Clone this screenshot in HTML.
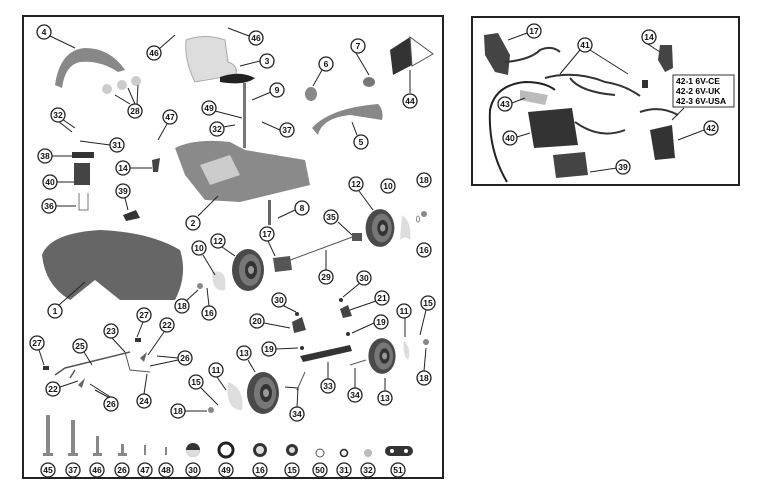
<!DOCTYPE html>
<html><head><style>
html,body{margin:0;padding:0;background:#fff;}
svg{display:block;}
text{font-family:"Liberation Sans",sans-serif;font-weight:bold;}
</style></head><body>
<svg width="760" height="485" viewBox="0 0 760 485" xmlns="http://www.w3.org/2000/svg">
<defs>
<g id="tire"><ellipse cx="0" cy="0" rx="16" ry="21" fill="#4a4a4a"/><ellipse cx="2" cy="0" rx="11" ry="16" fill="#777"/><ellipse cx="3" cy="0" rx="6" ry="9" fill="#333"/><ellipse cx="3" cy="0" rx="3" ry="4" fill="#999"/></g>
</defs>
<rect x="23" y="16" width="420" height="462" fill="none" stroke="#222" stroke-width="2"/>
<rect x="472" y="17" width="267" height="168" fill="none" stroke="#222" stroke-width="2"/>

<!-- parts left -->
<path d="M55,85 Q60,50 85,48 Q110,48 125,70 L118,72 Q100,60 80,62 Q65,65 62,88Z" fill="#888"/>
<circle cx="107" cy="89" r="5" fill="#ccc"/><circle cx="122" cy="85" r="5" fill="#ccc"/><circle cx="136" cy="81" r="5" fill="#ccc"/>
<path d="M186,40 Q205,33 225,40 L228,62 Q238,65 236,75 L195,82 Q184,60 186,40Z" fill="#ddd" stroke="#aaa"/>
<path d="M220,77 Q240,70 255,78 Q245,86 220,82Z" fill="#222"/>
<rect x="243" y="83" width="3" height="65" fill="#777"/>
<ellipse cx="311" cy="94" rx="6" ry="7" fill="#888"/>
<ellipse cx="369" cy="82" rx="6" ry="5" fill="#777"/>
<path d="M390,50 L410,37 L433,54 L393,75Z" fill="#333"/><path d="M410,37 L433,54 L412,66Z" fill="#fff" stroke="#555"/>
<path d="M312,128 Q330,108 378,104 Q384,110 382,120 L350,115 Q322,118 318,135Z" fill="#888"/>
<path d="M175,148 Q195,138 230,142 L245,150 L305,160 L310,185 L240,202 L205,200 L185,175Z" fill="#8a8a8a"/>
<path d="M200,165 L230,155 L240,175 L210,185Z" fill="#ccc"/>
<rect x="72" y="152" width="22" height="6" fill="#333"/>
<rect x="74" y="163" width="16" height="22" fill="#444"/>
<path d="M79,193 L79,210 L88,210 L88,193" fill="none" stroke="#777"/>
<path d="M152,160 L160,158 L158,172 L153,172Z" fill="#444"/>
<path d="M123,215 L136,210 L140,218 L126,221Z" fill="#333"/>
<path d="M42,255 Q50,233 100,230 Q150,232 180,250 Q188,275 175,300 L120,300 L95,280 L70,300 Q45,285 42,255Z" fill="#666"/>
<rect x="268" y="200" width="3" height="25" fill="#666"/>
<rect x="352" y="233" width="10" height="8" fill="#555"/>
<line x1="285" y1="262" x2="355" y2="236" stroke="#555"/>
<use href="#tire" x="380" y="228" transform="translate(380 228) scale(0.9) translate(-380 -228)"/>
<path d="M402,215 Q412,222 410,240 Q405,235 400,240Z" fill="#ddd"/>
<circle cx="424" cy="214" r="3" fill="#888"/><ellipse cx="418" cy="219" rx="1.5" ry="3" fill="none" stroke="#888"/>
<use href="#tire" x="248" y="270"/>
<path d="M273,258 L290,256 L292,270 L275,272Z" fill="#555"/>
<path d="M212,272 Q228,268 225,290 Q212,293 212,272Z" fill="#ddd"/>
<circle cx="200" cy="286" r="3" fill="#888"/>
<path d="M292,322 L302,317 L306,330 L294,333Z" fill="#444"/>
<path d="M340,309 L348,305 L352,316 L343,318Z" fill="#444"/>
<circle cx="341" cy="300" r="2" fill="#333"/><circle cx="297" cy="314" r="2" fill="#333"/>
<circle cx="348" cy="334" r="2" fill="#333"/><circle cx="302" cy="348" r="2" fill="#333"/>
<path d="M300,356 L350,345 L352,351 L303,362Z" fill="#333"/>
<use href="#tire" x="382" y="356" transform="translate(382 356) scale(0.85) translate(-382 -356)"/>
<path d="M404,340 Q412,350 408,360 Q402,355 404,340Z" fill="#ddd"/>
<circle cx="426" cy="342" r="3" fill="#888"/>
<use href="#tire" x="263" y="393"/>
<path d="M228,382 Q245,388 242,410 Q225,410 228,382Z" fill="#ddd"/>
<circle cx="211" cy="410" r="3" fill="#888"/>
<path d="M55,375 L65,368 L130,352 M75,370 L70,378" fill="none" stroke="#555" stroke-width="1.5"/>
<path d="M125,352 L130,370 L150,372" fill="none" stroke="#555"/>
<rect x="43" y="366" width="6" height="4" fill="#333"/><rect x="135" y="338" width="6" height="4" fill="#333"/>
<path d="M78,385 L85,378 L82,388Z" fill="#666"/><path d="M140,358 L147,352 L144,362Z" fill="#666"/>
<line x1="297" y1="390" x2="305" y2="372" stroke="#555"/><line x1="350" y1="365" x2="366" y2="360" stroke="#555"/>

<!-- bottom row hardware -->
<g fill="#888">
<rect x="46" y="415" width="4" height="40"/><rect x="43" y="453" width="10" height="3"/>
<rect x="71" y="420" width="4" height="35"/><rect x="68" y="453" width="10" height="3"/>
<rect x="96" y="436" width="3" height="18"/><rect x="93" y="453" width="9" height="3"/>
<rect x="121" y="444" width="3" height="10"/><rect x="118" y="453" width="9" height="3"/>
<rect x="144" y="445" width="2" height="10"/><rect x="165" y="447" width="2" height="8"/>
</g>
<circle cx="193" cy="450" r="7" fill="#333"/><path d="M186,450 A7,7 0 0 0 200,450Z" fill="#ddd"/>
<circle cx="226" cy="450" r="7" fill="#fff" stroke="#222" stroke-width="3"/>
<circle cx="260" cy="450" r="7" fill="#333"/><circle cx="260" cy="450" r="4" fill="#ddd"/>
<circle cx="292" cy="450" r="6" fill="#333"/><circle cx="292" cy="450" r="3" fill="#ddd"/>
<circle cx="320" cy="453" r="4" fill="#fff" stroke="#555"/>
<circle cx="344" cy="453" r="3.5" fill="#fff" stroke="#222" stroke-width="1.5"/>
<circle cx="368" cy="453" r="4" fill="#bbb"/>
<rect x="385" y="446" width="28" height="10" rx="5" fill="#333"/><circle cx="392" cy="451" r="2" fill="#fff"/><circle cx="406" cy="451" r="2" fill="#fff"/>

<!-- right box parts -->
<path d="M484,35 L498,33 L510,55 L508,75 L495,72 L485,55Z" fill="#444"/>
<path d="M505,62 Q530,60 540,50 Q552,45 560,52" fill="none" stroke="#333" stroke-width="2"/>
<path d="M545,78 Q575,70 605,82 Q625,85 640,96 M570,78 Q580,92 615,95" fill="none" stroke="#333" stroke-width="2"/>
<rect x="642" y="80" width="6" height="8" fill="#333"/>
<path d="M660,45 L672,45 L673,68 L665,72 L658,60Z" fill="#444"/>
<path d="M507,182 Q488,150 490,110 Q495,85 525,82 Q545,82 555,90" fill="none" stroke="#222" stroke-width="2"/>
<path d="M520,90 L548,95 L545,105 L520,100Z" fill="#bbb"/>
<path d="M528,112 L572,108 L578,145 L534,148Z" fill="#333"/>
<path d="M575,122 Q600,140 625,130" fill="none" stroke="#333" stroke-width="2"/>
<path d="M553,155 L585,152 L588,175 L556,178Z" fill="#444"/>
<path d="M650,130 L672,125 L675,158 L655,160Z" fill="#333"/>
<path d="M640,112 Q660,105 678,115" fill="none" stroke="#333" stroke-width="2"/>
<rect x="673" y="75" width="61" height="32" fill="#fff" stroke="#333"/>
<text x="676" y="84" font-size="8.5">42-1  6V-CE</text>
<text x="676" y="94" font-size="8.5">42-2  6V-UK</text>
<text x="676" y="104" font-size="8.5">42-3  6V-USA</text>

<!-- leader lines -->
<g stroke="#222" stroke-width="1" fill="none">
<path d="M50,36 L75,48"/><path d="M159,49 L175,35"/><path d="M249,36 L228,28"/><path d="M260,61 L240,66"/>
<path d="M356,53 L369,75"/><path d="M322,70 L313,86"/><path d="M410,93 L410,70"/><path d="M130,104 L115,95 M135,104 L128,88 M137,104 L138,85"/>
<path d="M271,92 L252,100"/><path d="M215,111 L242,118"/><path d="M211,129 L235,125"/><path d="M280,130 L262,122"/>
<path d="M357,135 L352,122"/><path d="M62,119 L75,128 M58,121 L72,132"/><path d="M110,145 L80,141"/><path d="M167,124 L158,140"/>
<path d="M52,156 L72,156"/><path d="M130,168 L152,168"/><path d="M57,182 L74,182"/><path d="M125,198 L128,210"/>
<path d="M56,206 L76,206"/><path d="M198,216 L218,196"/><path d="M295,210 L278,218"/><path d="M359,191 L373,210"/>
<path d="M338,222 L352,235"/><path d="M268,241 L275,256"/><path d="M222,247 L235,256"/><path d="M203,255 L215,275"/>
<path d="M326,270 L326,250"/><path d="M360,283 L343,297"/><path d="M376,301 L350,310"/><path d="M186,301 L198,290"/>
<path d="M209,306 L207,288"/><path d="M59,305 L85,282"/><path d="M282,305 L296,312"/><path d="M264,323 L290,328"/>
<path d="M374,323 L352,333"/><path d="M405,318 L405,337"/><path d="M426,310 L420,335"/><path d="M143,322 L137,337"/>
<path d="M164,332 L148,355"/><path d="M112,338 L125,352"/><path d="M84,352 L92,365"/><path d="M39,350 L44,365"/>
<path d="M178,358 L157,356 M178,360 L150,366"/><path d="M276,349 L298,348"/><path d="M248,360 L255,372"/>
<path d="M328,379 L328,362"/><path d="M355,388 L355,368"/><path d="M385,391 L385,378"/><path d="M424,371 L426,348"/>
<path d="M60,387 L78,381"/><path d="M144,394 L147,374"/><path d="M117,402 L95,390 M112,398 L90,384"/>
<path d="M201,388 L218,405"/><path d="M217,377 L226,390"/><path d="M185,411 L207,411"/><path d="M297,407 L298,388 M298,388 L285,387"/>
<path d="M527,33 L508,40"/><path d="M580,50 L560,74 M590,50 L628,74"/><path d="M643,41 L660,52"/>
<path d="M512,103 L525,98"/><path d="M517,137 L530,133"/><path d="M704,130 L678,140"/><path d="M617,168 L590,172"/>
<path d="M684,108 L672,120"/>
</g>

<!-- labels -->
<g font-size="8.5" text-anchor="middle">
<g fill="#fff" stroke="#222" stroke-width="1.3">
<circle cx="44" cy="32" r="7"/><circle cx="154" cy="53" r="7"/><circle cx="256" cy="38" r="7"/><circle cx="267" cy="61" r="7"/>
<circle cx="358" cy="46" r="7"/><circle cx="326" cy="64" r="7"/><circle cx="410" cy="101" r="7"/><circle cx="135" cy="111" r="7"/>
<circle cx="277" cy="90" r="7"/><circle cx="209" cy="108" r="7"/><circle cx="217" cy="129" r="7"/><circle cx="287" cy="130" r="7"/>
<circle cx="361" cy="142" r="7"/><circle cx="58" cy="115" r="7"/><circle cx="117" cy="145" r="7"/><circle cx="170" cy="117" r="7"/>
<circle cx="45" cy="156" r="7"/><circle cx="123" cy="168" r="7"/><circle cx="50" cy="182" r="7"/><circle cx="123" cy="191" r="7"/>
<circle cx="49" cy="206" r="7"/><circle cx="193" cy="223" r="7"/><circle cx="302" cy="208" r="7"/><circle cx="356" cy="184" r="7"/>
<circle cx="388" cy="186" r="7"/><circle cx="424" cy="180" r="7"/><circle cx="331" cy="217" r="7"/><circle cx="267" cy="234" r="7"/>
<circle cx="424" cy="250" r="7"/><circle cx="218" cy="241" r="7"/><circle cx="199" cy="248" r="7"/><circle cx="326" cy="277" r="7"/>
<circle cx="364" cy="278" r="7"/><circle cx="382" cy="298" r="7"/><circle cx="182" cy="306" r="7"/><circle cx="209" cy="313" r="7"/>
<circle cx="55" cy="311" r="7"/><circle cx="279" cy="300" r="7"/><circle cx="257" cy="321" r="7"/><circle cx="381" cy="322" r="7"/>
<circle cx="404" cy="311" r="7"/><circle cx="428" cy="303" r="7"/><circle cx="144" cy="315" r="7"/><circle cx="167" cy="325" r="7"/>
<circle cx="111" cy="331" r="7"/><circle cx="80" cy="346" r="7"/><circle cx="37" cy="343" r="7"/><circle cx="185" cy="358" r="7"/>
<circle cx="269" cy="349" r="7"/><circle cx="244" cy="353" r="7"/><circle cx="328" cy="386" r="7"/><circle cx="355" cy="395" r="7"/>
<circle cx="385" cy="398" r="7"/><circle cx="424" cy="378" r="7"/><circle cx="53" cy="389" r="7"/><circle cx="144" cy="401" r="7"/>
<circle cx="111" cy="404" r="7"/><circle cx="196" cy="382" r="7"/><circle cx="216" cy="370" r="7"/><circle cx="178" cy="411" r="7"/>
<circle cx="297" cy="414" r="7"/>
<circle cx="48" cy="470" r="7"/><circle cx="73" cy="470" r="7"/><circle cx="97" cy="470" r="7"/><circle cx="122" cy="470" r="7"/>
<circle cx="145" cy="470" r="7"/><circle cx="166" cy="470" r="7"/><circle cx="193" cy="470" r="7"/><circle cx="226" cy="470" r="7"/>
<circle cx="260" cy="470" r="7"/><circle cx="292" cy="470" r="7"/><circle cx="320" cy="470" r="7"/><circle cx="344" cy="470" r="7"/>
<circle cx="368" cy="470" r="7"/><circle cx="398" cy="470" r="7"/>
<circle cx="534" cy="31" r="7"/><circle cx="585" cy="45" r="7"/><circle cx="649" cy="37" r="7"/><circle cx="505" cy="104" r="7"/>
<circle cx="510" cy="138" r="7"/><circle cx="711" cy="128" r="7"/><circle cx="623" cy="167" r="7"/>
</g>
<g fill="#111">
<text x="44" y="35">4</text><text x="154" y="56">46</text><text x="256" y="41">46</text><text x="267" y="64">3</text>
<text x="358" y="49">7</text><text x="326" y="67">6</text><text x="410" y="104">44</text><text x="135" y="114">28</text>
<text x="277" y="93">9</text><text x="209" y="111">49</text><text x="217" y="132">32</text><text x="287" y="133">37</text>
<text x="361" y="145">5</text><text x="58" y="118">32</text><text x="117" y="148">31</text><text x="170" y="120">47</text>
<text x="45" y="159">38</text><text x="123" y="171">14</text><text x="50" y="185">40</text><text x="123" y="194">39</text>
<text x="49" y="209">36</text><text x="193" y="226">2</text><text x="302" y="211">8</text><text x="356" y="187">12</text>
<text x="388" y="189">10</text><text x="424" y="183">18</text><text x="331" y="220">35</text><text x="267" y="237">17</text>
<text x="424" y="253">16</text><text x="218" y="244">12</text><text x="199" y="251">10</text><text x="326" y="280">29</text>
<text x="364" y="281">30</text><text x="382" y="301">21</text><text x="182" y="309">18</text><text x="209" y="316">16</text>
<text x="55" y="314">1</text><text x="279" y="303">30</text><text x="257" y="324">20</text><text x="381" y="325">19</text>
<text x="404" y="314">11</text><text x="428" y="306">15</text><text x="144" y="318">27</text><text x="167" y="328">22</text>
<text x="111" y="334">23</text><text x="80" y="349">25</text><text x="37" y="346">27</text><text x="185" y="361">26</text>
<text x="269" y="352">19</text><text x="244" y="356">13</text><text x="328" y="389">33</text><text x="355" y="398">34</text>
<text x="385" y="401">13</text><text x="424" y="381">18</text><text x="53" y="392">22</text><text x="144" y="404">24</text>
<text x="111" y="407">26</text><text x="196" y="385">15</text><text x="216" y="373">11</text><text x="178" y="414">18</text>
<text x="297" y="417">34</text>
<text x="48" y="473">45</text><text x="73" y="473">37</text><text x="97" y="473">46</text><text x="122" y="473">26</text>
<text x="145" y="473">47</text><text x="166" y="473">48</text><text x="193" y="473">30</text><text x="226" y="473">49</text>
<text x="260" y="473">16</text><text x="292" y="473">15</text><text x="320" y="473">50</text><text x="344" y="473">31</text>
<text x="368" y="473">32</text><text x="398" y="473">51</text>
<text x="534" y="34">17</text><text x="585" y="48">41</text><text x="649" y="40">14</text><text x="505" y="107">43</text>
<text x="510" y="141">40</text><text x="711" y="131">42</text><text x="623" y="170">39</text>
</g>
</g>
</svg>
</body></html>
